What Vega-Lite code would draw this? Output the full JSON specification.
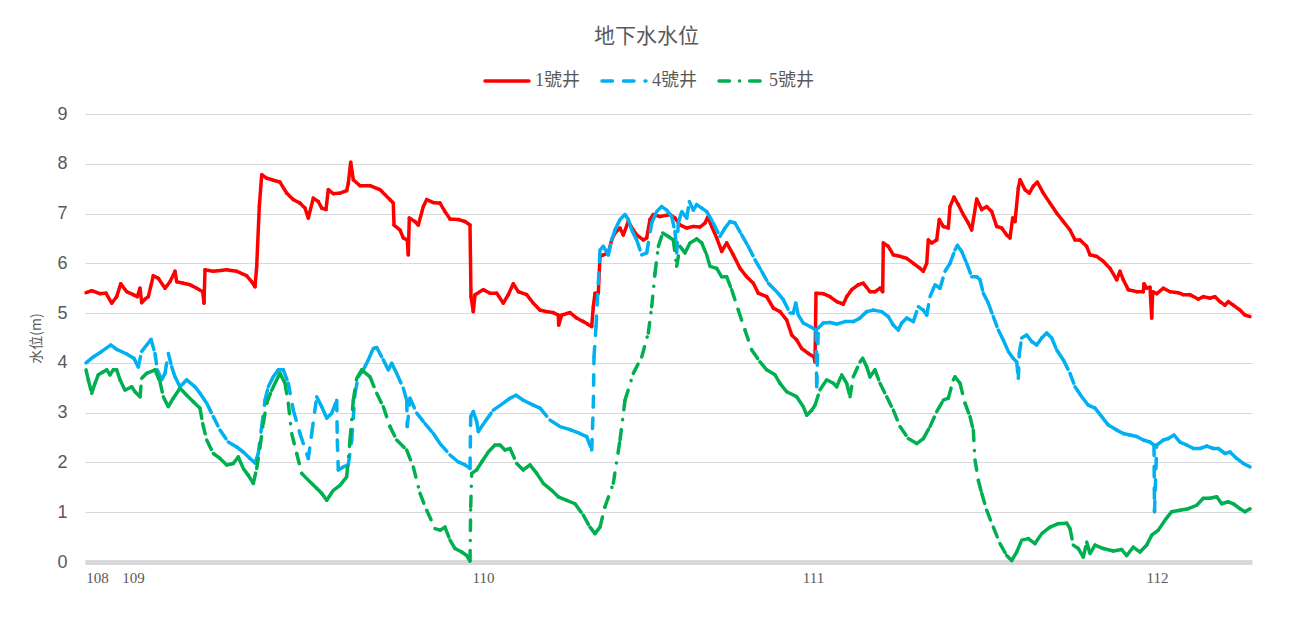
{
"$schema": "https://vega.github.io/schema/vega-lite/v6.json",
"width": 1167,
"height": 448,
"autosize": {"type": "none"},
"padding": {"left": 85, "top": 114, "right": 40, "bottom": 69},
"background": "white",
"title": {"text": "地下水水位", "anchor": "middle", "frame": "group", "dx": -22, "offset": 10, "fontSize": 21, "font": "Noto Sans CJK TC", "fontWeight": "normal", "color": "#595959"},
"data": {"values": [
{"s":"1號井","t":1,"v":5.41},{"s":"1號井","t":6.7,"v":5.45},{"s":"1號井","t":15,"v":5.39},{"s":"1號井","t":21,"v":5.40},{"s":"1號井","t":26.7,"v":5.20},{"s":"1號井","t":31.7,"v":5.33},{"s":"1號井","t":35.7,"v":5.59},{"s":"1號井","t":41.7,"v":5.43},{"s":"1號井","t":48.3,"v":5.37},{"s":"1號井","t":52.3,"v":5.33},{"s":"1號井","t":55,"v":5.50},{"s":"1號井","t":56.7,"v":5.21},{"s":"1號井","t":60,"v":5.28},{"s":"1號井","t":63.3,"v":5.33},{"s":"1號井","t":68.3,"v":5.75},{"s":"1號井","t":73.3,"v":5.70},{"s":"1號井","t":80,"v":5.50},{"s":"1號井","t":85,"v":5.63},{"s":"1號井","t":90,"v":5.84},{"s":"1號井","t":91.7,"v":5.63},{"s":"1號井","t":98.3,"v":5.60},{"s":"1號井","t":105,"v":5.57},{"s":"1號井","t":111.7,"v":5.50},{"s":"1號井","t":117.7,"v":5.43},{"s":"1號井","t":119,"v":5.20},{"s":"1號井","t":120,"v":5.87},{"s":"1號井","t":128.3,"v":5.84},{"s":"1號井","t":141.7,"v":5.87},{"s":"1號井","t":151.7,"v":5.84},{"s":"1號井","t":161.7,"v":5.75},{"s":"1號井","t":166.7,"v":5.63},{"s":"1號井","t":170,"v":5.53},{"s":"1號井","t":171.7,"v":5.94},{"s":"1號井","t":174.3,"v":7.14},{"s":"1號井","t":176.7,"v":7.78},{"s":"1號井","t":181.7,"v":7.71},{"s":"1號井","t":188.3,"v":7.67},{"s":"1號井","t":195,"v":7.63},{"s":"1號井","t":201.7,"v":7.41},{"s":"1號井","t":208.3,"v":7.28},{"s":"1號井","t":215,"v":7.21},{"s":"1號井","t":220,"v":7.11},{"s":"1號井","t":223.3,"v":6.91},{"s":"1號井","t":228.3,"v":7.31},{"s":"1號井","t":233.3,"v":7.24},{"s":"1號井","t":236.7,"v":7.11},{"s":"1號井","t":241,"v":7.08},{"s":"1號井","t":243.3,"v":7.48},{"s":"1號井","t":248.3,"v":7.40},{"s":"1號井","t":255,"v":7.41},{"s":"1號井","t":261.7,"v":7.46},{"s":"1號井","t":263.3,"v":7.61},{"s":"1號井","t":265.7,"v":8.03},{"s":"1號井","t":268.3,"v":7.68},{"s":"1號井","t":275,"v":7.56},{"s":"1號井","t":285,"v":7.56},{"s":"1號井","t":295,"v":7.48},{"s":"1號井","t":305,"v":7.28},{"s":"1號井","t":308.3,"v":7.21},{"s":"1號井","t":309,"v":6.77},{"s":"1號井","t":315,"v":6.67},{"s":"1號井","t":318.3,"v":6.51},{"s":"1號井","t":322.3,"v":6.47},{"s":"1號井","t":323.3,"v":6.17},{"s":"1號井","t":324.3,"v":6.91},{"s":"1號井","t":330,"v":6.84},{"s":"1號井","t":333.3,"v":6.77},{"s":"1號井","t":338.3,"v":7.14},{"s":"1號井","t":341.7,"v":7.28},{"s":"1號井","t":348.3,"v":7.22},{"s":"1號井","t":355,"v":7.21},{"s":"1號井","t":360,"v":7.04},{"s":"1號井","t":365,"v":6.89},{"s":"1號井","t":373.3,"v":6.88},{"s":"1號井","t":380,"v":6.84},{"s":"1號井","t":385,"v":6.77},{"s":"1號井","t":386,"v":5.33},{"s":"1號井","t":388.3,"v":5.03},{"s":"1號井","t":390,"v":5.37},{"s":"1號井","t":398.3,"v":5.47},{"s":"1號井","t":405,"v":5.40},{"s":"1號井","t":411.7,"v":5.40},{"s":"1號井","t":418.3,"v":5.20},{"s":"1號井","t":423.3,"v":5.37},{"s":"1號井","t":428.3,"v":5.59},{"s":"1號井","t":433.3,"v":5.43},{"s":"1號井","t":441.7,"v":5.37},{"s":"1號井","t":448.3,"v":5.20},{"s":"1號井","t":455,"v":5.06},{"s":"1號井","t":461.7,"v":5.03},{"s":"1號井","t":468.3,"v":5.01},{"s":"1號井","t":473.3,"v":4.96},{"s":"1號井","t":473.7,"v":4.76},{"s":"1號井","t":476.7,"v":4.96},{"s":"1號井","t":485,"v":5.01},{"s":"1號井","t":491.7,"v":4.90},{"s":"1號井","t":498.3,"v":4.83},{"s":"1號井","t":506.7,"v":4.73},{"s":"1號井","t":508.3,"v":5.13},{"s":"1號井","t":510,"v":5.40},{"s":"1號井","t":513.3,"v":5.40},{"s":"1號井","t":515,"v":6.14},{"s":"1號井","t":518.3,"v":6.17},{"s":"1號井","t":523.3,"v":6.21},{"s":"1號井","t":526.7,"v":6.47},{"s":"1號井","t":530,"v":6.61},{"s":"1號井","t":535,"v":6.71},{"s":"1號井","t":538.3,"v":6.57},{"s":"1號井","t":543.3,"v":6.84},{"s":"1號井","t":548.3,"v":6.67},{"s":"1號井","t":551.7,"v":6.57},{"s":"1號井","t":558.3,"v":6.47},{"s":"1號井","t":561.7,"v":6.51},{"s":"1號井","t":565,"v":6.88},{"s":"1號井","t":568.3,"v":6.98},{"s":"1號井","t":575,"v":6.94},{"s":"1號井","t":585,"v":6.98},{"s":"1號井","t":590,"v":6.91},{"s":"1號井","t":595,"v":6.77},{"s":"1號井","t":601.7,"v":6.71},{"s":"1號井","t":608.3,"v":6.74},{"s":"1號井","t":615,"v":6.73},{"s":"1號井","t":620,"v":6.81},{"s":"1號井","t":622.7,"v":6.93},{"s":"1號井","t":626.7,"v":6.74},{"s":"1號井","t":631.7,"v":6.51},{"s":"1號井","t":636.7,"v":6.24},{"s":"1號井","t":641.7,"v":6.41},{"s":"1號井","t":648.3,"v":6.17},{"s":"1號井","t":655,"v":5.90},{"s":"1號井","t":661.7,"v":5.73},{"s":"1號井","t":668.3,"v":5.60},{"s":"1號井","t":673.3,"v":5.40},{"s":"1號井","t":681.7,"v":5.33},{"s":"1號井","t":688.3,"v":5.10},{"s":"1號井","t":695,"v":5.03},{"s":"1號井","t":701.7,"v":4.86},{"s":"1號井","t":706.7,"v":4.56},{"s":"1號井","t":711.7,"v":4.46},{"s":"1號井","t":716.7,"v":4.29},{"s":"1號井","t":723.3,"v":4.19},{"s":"1號井","t":729,"v":4.12},{"s":"1號井","t":730,"v":4.02},{"s":"1號井","t":731,"v":5.40},{"s":"1號井","t":738.3,"v":5.39},{"s":"1號井","t":745,"v":5.33},{"s":"1號井","t":751.7,"v":5.23},{"s":"1號井","t":758.3,"v":5.18},{"s":"1號井","t":761.7,"v":5.33},{"s":"1號井","t":766.7,"v":5.47},{"s":"1號井","t":773.3,"v":5.57},{"s":"1號井","t":778.3,"v":5.60},{"s":"1號井","t":785,"v":5.43},{"s":"1號井","t":790,"v":5.43},{"s":"1號井","t":795,"v":5.50},{"s":"1號井","t":797.7,"v":5.43},{"s":"1號井","t":798.3,"v":6.41},{"s":"1號井","t":803.3,"v":6.34},{"s":"1號井","t":808.3,"v":6.17},{"s":"1號井","t":815,"v":6.14},{"s":"1號井","t":821.7,"v":6.10},{"s":"1號井","t":828.3,"v":6.00},{"s":"1號井","t":835,"v":5.90},{"s":"1號井","t":838.3,"v":5.84},{"s":"1號井","t":841.7,"v":6.00},{"s":"1號井","t":843.3,"v":6.47},{"s":"1號井","t":846.7,"v":6.41},{"s":"1號井","t":851.7,"v":6.47},{"s":"1號井","t":854.3,"v":6.88},{"s":"1號井","t":858.3,"v":6.74},{"s":"1號井","t":863.3,"v":6.71},{"s":"1號井","t":865,"v":7.14},{"s":"1號井","t":869,"v":7.33},{"s":"1號井","t":873.3,"v":7.18},{"s":"1號井","t":878.3,"v":6.98},{"s":"1號井","t":883.3,"v":6.81},{"s":"1號井","t":886.7,"v":6.67},{"s":"1號井","t":891.7,"v":7.29},{"s":"1號井","t":896.7,"v":7.08},{"s":"1號井","t":901.7,"v":7.14},{"s":"1號井","t":906.7,"v":7.04},{"s":"1號井","t":911.7,"v":6.74},{"s":"1號井","t":916.7,"v":6.71},{"s":"1號井","t":921.7,"v":6.57},{"s":"1號井","t":925,"v":6.51},{"s":"1號井","t":927.7,"v":6.91},{"s":"1號井","t":930,"v":6.84},{"s":"1號井","t":933.3,"v":7.51},{"s":"1號井","t":935,"v":7.68},{"s":"1號井","t":940,"v":7.48},{"s":"1號井","t":944.3,"v":7.41},{"s":"1號井","t":948.3,"v":7.55},{"s":"1號井","t":952.3,"v":7.63},{"s":"1號井","t":958.3,"v":7.41},{"s":"1號井","t":965,"v":7.21},{"s":"1號井","t":971.7,"v":7.01},{"s":"1號井","t":978.3,"v":6.84},{"s":"1號井","t":985,"v":6.67},{"s":"1號井","t":990,"v":6.47},{"s":"1號井","t":995,"v":6.47},{"s":"1號井","t":1001.7,"v":6.34},{"s":"1號井","t":1005,"v":6.17},{"s":"1號井","t":1011.7,"v":6.14},{"s":"1號井","t":1018.3,"v":6.04},{"s":"1號井","t":1025,"v":5.90},{"s":"1號井","t":1031.7,"v":5.67},{"s":"1號井","t":1035,"v":5.84},{"s":"1號井","t":1038.3,"v":5.67},{"s":"1號井","t":1043.3,"v":5.47},{"s":"1號井","t":1051.7,"v":5.43},{"s":"1號井","t":1058.3,"v":5.43},{"s":"1號井","t":1059,"v":5.59},{"s":"1號井","t":1061.7,"v":5.50},{"s":"1號井","t":1065,"v":5.52},{"s":"1號井","t":1066.7,"v":4.90},{"s":"1號井","t":1067.7,"v":5.43},{"s":"1號井","t":1071.7,"v":5.39},{"s":"1號井","t":1078.3,"v":5.50},{"s":"1號井","t":1085,"v":5.43},{"s":"1號井","t":1093.3,"v":5.41},{"s":"1號井","t":1098.3,"v":5.37},{"s":"1號井","t":1105,"v":5.37},{"s":"1號井","t":1113.3,"v":5.28},{"s":"1號井","t":1118.3,"v":5.33},{"s":"1號井","t":1125,"v":5.30},{"s":"1號井","t":1130,"v":5.33},{"s":"1號井","t":1135,"v":5.23},{"s":"1號井","t":1140,"v":5.16},{"s":"1號井","t":1143.3,"v":5.23},{"s":"1號井","t":1148.3,"v":5.16},{"s":"1號井","t":1155,"v":5.06},{"s":"1號井","t":1160,"v":4.96},{"s":"1號井","t":1165,"v":4.93},
{"s":"4號井","t":1,"v":4.00},{"s":"4號井","t":8.3,"v":4.12},{"s":"4號井","t":16.7,"v":4.23},{"s":"4號井","t":25.7,"v":4.36},{"s":"4號井","t":31.7,"v":4.27},{"s":"4號井","t":41.7,"v":4.18},{"s":"4號井","t":49,"v":4.09},{"s":"4號井","t":53.3,"v":3.92},{"s":"4號井","t":56.7,"v":4.23},{"s":"4號井","t":61.7,"v":4.36},{"s":"4號井","t":66,"v":4.47},{"s":"4號井","t":70,"v":4.19},{"s":"4號井","t":72.3,"v":3.86},{"s":"4號井","t":76.7,"v":3.66},{"s":"4號井","t":80,"v":3.79},{"s":"4號井","t":83.3,"v":4.19},{"s":"4號井","t":86.7,"v":3.92},{"s":"4號井","t":90,"v":3.72},{"s":"4號井","t":95,"v":3.52},{"s":"4號井","t":101.7,"v":3.66},{"s":"4號井","t":110,"v":3.52},{"s":"4號井","t":115,"v":3.39},{"s":"4號井","t":121.7,"v":3.19},{"s":"4號井","t":128.3,"v":2.92},{"s":"4號井","t":135,"v":2.65},{"s":"4號井","t":143.3,"v":2.41},{"s":"4號井","t":151.7,"v":2.31},{"s":"4號井","t":158.3,"v":2.21},{"s":"4號井","t":165,"v":2.08},{"s":"4號井","t":170,"v":1.99},{"s":"4號井","t":173.3,"v":2.18},{"s":"4號井","t":176.7,"v":2.72},{"s":"4號井","t":180,"v":3.25},{"s":"4號井","t":183.3,"v":3.52},{"s":"4號井","t":188.3,"v":3.72},{"s":"4號井","t":193.3,"v":3.86},{"s":"4號井","t":198.3,"v":3.86},{"s":"4號井","t":203.3,"v":3.59},{"s":"4號井","t":208.3,"v":3.05},{"s":"4號井","t":215,"v":2.58},{"s":"4號井","t":223.3,"v":2.08},{"s":"4號井","t":226.7,"v":2.58},{"s":"4號井","t":231.7,"v":3.32},{"s":"4號井","t":236.7,"v":3.12},{"s":"4號井","t":241.7,"v":2.89},{"s":"4號井","t":246.7,"v":2.99},{"s":"4號井","t":251.7,"v":3.25},{"s":"4號井","t":252.3,"v":2.45},{"s":"4號井","t":253.3,"v":1.85},{"s":"4號井","t":258.3,"v":1.91},{"s":"4號井","t":263.3,"v":1.95},{"s":"4號井","t":266.7,"v":2.45},{"s":"4號井","t":270,"v":3.39},{"s":"4號井","t":273.3,"v":3.72},{"s":"4號井","t":278.3,"v":3.86},{"s":"4號井","t":283.3,"v":4.06},{"s":"4號井","t":288.3,"v":4.29},{"s":"4號井","t":291.7,"v":4.31},{"s":"4號井","t":298.3,"v":4.06},{"s":"4號井","t":303.3,"v":3.86},{"s":"4號井","t":306.7,"v":3.99},{"s":"4號井","t":311.7,"v":3.79},{"s":"4號井","t":318.3,"v":3.49},{"s":"4號井","t":321.7,"v":3.25},{"s":"4號井","t":322.3,"v":2.72},{"s":"4號井","t":325,"v":3.29},{"s":"4號井","t":331.7,"v":2.99},{"s":"4號井","t":340,"v":2.78},{"s":"4號井","t":348.3,"v":2.58},{"s":"4號井","t":355,"v":2.38},{"s":"4號井","t":365,"v":2.15},{"s":"4號井","t":373.3,"v":2.01},{"s":"4號井","t":380,"v":1.95},{"s":"4號井","t":385,"v":1.88},{"s":"4號井","t":385.7,"v":2.92},{"s":"4號井","t":388.3,"v":3.02},{"s":"4號井","t":391.7,"v":2.82},{"s":"4號井","t":393.3,"v":2.62},{"s":"4號井","t":400,"v":2.82},{"s":"4號井","t":408.3,"v":3.05},{"s":"4號井","t":418.3,"v":3.19},{"s":"4號井","t":425,"v":3.29},{"s":"4號井","t":431,"v":3.35},{"s":"4號井","t":438.3,"v":3.25},{"s":"4號井","t":448.3,"v":3.15},{"s":"4號井","t":455,"v":3.09},{"s":"4號井","t":465,"v":2.85},{"s":"4號井","t":475,"v":2.72},{"s":"4號井","t":485,"v":2.66},{"s":"4號井","t":495,"v":2.58},{"s":"4號井","t":501.7,"v":2.52},{"s":"4號井","t":506.7,"v":2.25},{"s":"4號井","t":508.3,"v":3.12},{"s":"4號井","t":509,"v":4.12},{"s":"4號井","t":511,"v":4.73},{"s":"4號井","t":513.3,"v":5.60},{"s":"4號井","t":515,"v":6.27},{"s":"4號井","t":518.3,"v":6.34},{"s":"4號井","t":523.3,"v":6.17},{"s":"4號井","t":526.7,"v":6.47},{"s":"4號井","t":530,"v":6.67},{"s":"4號井","t":535,"v":6.88},{"s":"4號井","t":540,"v":6.98},{"s":"4號井","t":543.3,"v":6.88},{"s":"4號井","t":546.7,"v":6.67},{"s":"4號井","t":551.7,"v":6.47},{"s":"4號井","t":556.7,"v":6.17},{"s":"4號井","t":561.7,"v":6.21},{"s":"4號井","t":566.7,"v":6.81},{"s":"4號井","t":571.7,"v":7.04},{"s":"4號井","t":576.7,"v":7.14},{"s":"4號井","t":581.7,"v":7.07},{"s":"4號井","t":586.7,"v":6.94},{"s":"4號井","t":590,"v":6.64},{"s":"4號井","t":591.7,"v":6.21},{"s":"4號井","t":593.3,"v":6.81},{"s":"4號井","t":596.7,"v":7.04},{"s":"4號井","t":601.7,"v":6.91},{"s":"4號井","t":604.3,"v":7.24},{"s":"4號井","t":608.3,"v":7.07},{"s":"4號井","t":611.7,"v":7.18},{"s":"4號井","t":616.7,"v":7.11},{"s":"4號井","t":621.7,"v":7.04},{"s":"4號井","t":628.3,"v":6.81},{"s":"4號井","t":635,"v":6.54},{"s":"4號井","t":640,"v":6.71},{"s":"4號井","t":645,"v":6.84},{"s":"4號井","t":650,"v":6.81},{"s":"4號井","t":656.7,"v":6.57},{"s":"4號井","t":663.3,"v":6.34},{"s":"4號井","t":670,"v":6.07},{"s":"4號井","t":676.7,"v":5.84},{"s":"4號井","t":683.3,"v":5.60},{"s":"4號井","t":691.7,"v":5.43},{"s":"4號井","t":698.3,"v":5.27},{"s":"4號井","t":705,"v":5.00},{"s":"4號井","t":708.3,"v":5.00},{"s":"4號井","t":710.7,"v":5.20},{"s":"4號井","t":713.3,"v":4.96},{"s":"4號井","t":718.3,"v":4.80},{"s":"4號井","t":725,"v":4.73},{"s":"4號井","t":731,"v":4.66},{"s":"4號井","t":731.7,"v":3.52},{"s":"4號井","t":733.3,"v":4.70},{"s":"4號井","t":738.3,"v":4.80},{"s":"4號井","t":745,"v":4.81},{"s":"4號井","t":751.7,"v":4.78},{"s":"4號井","t":760,"v":4.83},{"s":"4號井","t":768.3,"v":4.83},{"s":"4號井","t":775,"v":4.90},{"s":"4號井","t":781.7,"v":5.03},{"s":"4號井","t":788.3,"v":5.06},{"s":"4號井","t":796.7,"v":5.03},{"s":"4號井","t":803.3,"v":4.93},{"s":"4號井","t":808.3,"v":4.76},{"s":"4號井","t":813.3,"v":4.66},{"s":"4號井","t":816.7,"v":4.80},{"s":"4號井","t":821.7,"v":4.90},{"s":"4號井","t":828.3,"v":4.83},{"s":"4號井","t":833.3,"v":5.13},{"s":"4號井","t":838.3,"v":5.06},{"s":"4號井","t":841.7,"v":4.96},{"s":"4號井","t":845,"v":5.33},{"s":"4號井","t":850,"v":5.57},{"s":"4號井","t":855,"v":5.50},{"s":"4號井","t":860,"v":5.84},{"s":"4號井","t":865,"v":6.00},{"s":"4號井","t":870,"v":6.27},{"s":"4號井","t":872.5,"v":6.36},{"s":"4號井","t":876.7,"v":6.24},{"s":"4號井","t":881.7,"v":6.00},{"s":"4號井","t":886.7,"v":5.73},{"s":"4號井","t":891.7,"v":5.73},{"s":"4號井","t":895,"v":5.67},{"s":"4號井","t":898.3,"v":5.40},{"s":"4號井","t":903.3,"v":5.20},{"s":"4號井","t":908.3,"v":4.93},{"s":"4號井","t":913.3,"v":4.66},{"s":"4號井","t":918.3,"v":4.46},{"s":"4號井","t":923.3,"v":4.23},{"s":"4號井","t":928.3,"v":4.09},{"s":"4號井","t":931.7,"v":4.02},{"s":"4號井","t":933.3,"v":3.69},{"s":"4號井","t":934.3,"v":4.19},{"s":"4號井","t":936.7,"v":4.50},{"s":"4號井","t":941.7,"v":4.56},{"s":"4號井","t":946.7,"v":4.43},{"s":"4號井","t":951.7,"v":4.36},{"s":"4號井","t":956.7,"v":4.50},{"s":"4號井","t":961.7,"v":4.60},{"s":"4號井","t":966.7,"v":4.50},{"s":"4號井","t":971.7,"v":4.26},{"s":"4號井","t":978.3,"v":4.06},{"s":"4號井","t":985,"v":3.79},{"s":"4號井","t":990,"v":3.52},{"s":"4號井","t":996.7,"v":3.32},{"s":"4號井","t":1003.3,"v":3.15},{"s":"4號井","t":1010,"v":3.09},{"s":"4號井","t":1016.7,"v":2.92},{"s":"4號井","t":1023.3,"v":2.75},{"s":"4號井","t":1031.7,"v":2.65},{"s":"4號井","t":1038.3,"v":2.58},{"s":"4號井","t":1045,"v":2.55},{"s":"4號井","t":1051.7,"v":2.52},{"s":"4號井","t":1058.3,"v":2.45},{"s":"4號井","t":1065,"v":2.41},{"s":"4號井","t":1069,"v":2.35},{"s":"4號井","t":1069.5,"v":1.01},{"s":"4號井","t":1071.7,"v":2.35},{"s":"4號井","t":1078.3,"v":2.45},{"s":"4號井","t":1083.3,"v":2.48},{"s":"4號井","t":1089,"v":2.55},{"s":"4號井","t":1095,"v":2.41},{"s":"4號井","t":1101.7,"v":2.35},{"s":"4號井","t":1108.3,"v":2.28},{"s":"4號井","t":1115,"v":2.28},{"s":"4號井","t":1121.7,"v":2.33},{"s":"4號井","t":1128.3,"v":2.28},{"s":"4號井","t":1133.3,"v":2.28},{"s":"4號井","t":1140,"v":2.18},{"s":"4號井","t":1145,"v":2.21},{"s":"4號井","t":1151.7,"v":2.08},{"s":"4號井","t":1158.3,"v":1.98},{"s":"4號井","t":1165,"v":1.91},
{"s":"5號井","t":1,"v":3.86},{"s":"5號井","t":3.3,"v":3.66},{"s":"5號井","t":6.7,"v":3.39},{"s":"5號井","t":10,"v":3.59},{"s":"5號井","t":13.3,"v":3.76},{"s":"5號井","t":18.3,"v":3.82},{"s":"5號井","t":21.7,"v":3.86},{"s":"5號井","t":25,"v":3.76},{"s":"5號井","t":28.3,"v":3.86},{"s":"5號井","t":31.7,"v":3.86},{"s":"5號井","t":35,"v":3.66},{"s":"5號井","t":40,"v":3.45},{"s":"5號井","t":46.7,"v":3.52},{"s":"5號井","t":50,"v":3.42},{"s":"5號井","t":55,"v":3.32},{"s":"5號井","t":56.7,"v":3.69},{"s":"5號井","t":61.7,"v":3.79},{"s":"5號井","t":70,"v":3.86},{"s":"5號井","t":75,"v":3.62},{"s":"5號井","t":78.3,"v":3.32},{"s":"5號井","t":83.3,"v":3.12},{"s":"5號井","t":88.3,"v":3.29},{"s":"5號井","t":95,"v":3.49},{"s":"5號井","t":101.7,"v":3.35},{"s":"5號井","t":108.3,"v":3.22},{"s":"5號井","t":115,"v":3.09},{"s":"5號井","t":117.7,"v":2.78},{"s":"5號井","t":121.7,"v":2.45},{"s":"5號井","t":128.3,"v":2.18},{"s":"5號井","t":135,"v":2.08},{"s":"5號井","t":141.7,"v":1.95},{"s":"5號井","t":148.3,"v":1.98},{"s":"5號井","t":153.3,"v":2.11},{"s":"5號井","t":158.3,"v":1.88},{"s":"5號井","t":163.3,"v":1.74},{"s":"5號井","t":168.3,"v":1.58},{"s":"5號井","t":171.7,"v":1.88},{"s":"5號井","t":175,"v":2.31},{"s":"5號井","t":178.3,"v":2.78},{"s":"5號井","t":181.7,"v":3.19},{"s":"5號井","t":186.7,"v":3.45},{"s":"5號井","t":191.7,"v":3.66},{"s":"5號井","t":195,"v":3.79},{"s":"5號井","t":200,"v":3.59},{"s":"5號井","t":203.3,"v":3.19},{"s":"5號井","t":206.7,"v":2.58},{"s":"5號井","t":211.7,"v":2.18},{"s":"5號井","t":216.7,"v":1.78},{"s":"5號井","t":225,"v":1.61},{"s":"5號井","t":231.7,"v":1.48},{"s":"5號井","t":236.7,"v":1.38},{"s":"5號井","t":241.7,"v":1.24},{"s":"5號井","t":248.3,"v":1.44},{"s":"5號井","t":255,"v":1.54},{"s":"5號井","t":261.7,"v":1.71},{"s":"5號井","t":265,"v":2.45},{"s":"5號井","t":268.3,"v":3.25},{"s":"5號井","t":271.7,"v":3.69},{"s":"5號井","t":276.7,"v":3.86},{"s":"5號井","t":285,"v":3.72},{"s":"5號井","t":291.7,"v":3.39},{"s":"5號井","t":298.3,"v":3.12},{"s":"5號井","t":305,"v":2.72},{"s":"5號井","t":311.7,"v":2.45},{"s":"5號井","t":321.7,"v":2.25},{"s":"5號井","t":328.3,"v":1.91},{"s":"5號井","t":335,"v":1.38},{"s":"5號井","t":341.7,"v":1.04},{"s":"5號井","t":350,"v":0.67},{"s":"5號井","t":355,"v":0.64},{"s":"5號井","t":360,"v":0.70},{"s":"5號井","t":365,"v":0.44},{"s":"5號井","t":370,"v":0.27},{"s":"5號井","t":376.7,"v":0.20},{"s":"5號井","t":381.7,"v":0.13},{"s":"5號井","t":385,"v":0.02},{"s":"5號井","t":385.7,"v":1.11},{"s":"5號井","t":386.7,"v":1.78},{"s":"5號井","t":391.7,"v":1.85},{"s":"5號井","t":396.7,"v":2.01},{"s":"5號井","t":403.3,"v":2.21},{"s":"5號井","t":410,"v":2.35},{"s":"5號井","t":415,"v":2.35},{"s":"5號井","t":420,"v":2.25},{"s":"5號井","t":425,"v":2.28},{"s":"5號井","t":431.7,"v":1.98},{"s":"5號井","t":438.3,"v":1.85},{"s":"5號井","t":445,"v":1.95},{"s":"5號井","t":451.7,"v":1.78},{"s":"5號井","t":458.3,"v":1.58},{"s":"5號井","t":466.7,"v":1.44},{"s":"5號井","t":473.3,"v":1.31},{"s":"5號井","t":481.7,"v":1.24},{"s":"5號井","t":490,"v":1.17},{"s":"5號井","t":498.3,"v":0.94},{"s":"5號井","t":505,"v":0.70},{"s":"5號井","t":510,"v":0.57},{"s":"5號井","t":515,"v":0.70},{"s":"5號井","t":520,"v":1.11},{"s":"5號井","t":528.3,"v":1.58},{"s":"5號井","t":535,"v":2.45},{"s":"5號井","t":540,"v":3.25},{"s":"5號井","t":548.3,"v":3.79},{"s":"5號井","t":556.7,"v":4.12},{"s":"5號井","t":563.3,"v":4.60},{"s":"5號井","t":566.7,"v":5.13},{"s":"5號井","t":570,"v":5.80},{"s":"5號井","t":573.3,"v":6.34},{"s":"5號井","t":577.7,"v":6.61},{"s":"5號井","t":583.3,"v":6.54},{"s":"5號井","t":588.3,"v":6.47},{"s":"5號井","t":591.7,"v":5.94},{"s":"5號井","t":595,"v":6.34},{"s":"5號井","t":600,"v":6.21},{"s":"5號井","t":605,"v":6.41},{"s":"5號井","t":611.7,"v":6.49},{"s":"5號井","t":616.7,"v":6.41},{"s":"5號井","t":621.7,"v":6.17},{"s":"5號井","t":625,"v":5.94},{"s":"5號井","t":631.7,"v":5.90},{"s":"5號井","t":636.7,"v":5.73},{"s":"5號井","t":641.7,"v":5.73},{"s":"5號井","t":646.7,"v":5.47},{"s":"5號井","t":653.3,"v":5.06},{"s":"5號井","t":660,"v":4.66},{"s":"5號井","t":666.7,"v":4.26},{"s":"5號井","t":675,"v":4.02},{"s":"5號井","t":681.7,"v":3.86},{"s":"5號井","t":690,"v":3.76},{"s":"5號井","t":695,"v":3.59},{"s":"5號井","t":701.7,"v":3.42},{"s":"5號井","t":711.7,"v":3.32},{"s":"5號井","t":718.3,"v":3.12},{"s":"5號井","t":721.7,"v":2.95},{"s":"5號井","t":726.7,"v":3.05},{"s":"5號井","t":730,"v":3.15},{"s":"5號井","t":735,"v":3.46},{"s":"5號井","t":741.7,"v":3.66},{"s":"5號井","t":748.3,"v":3.59},{"s":"5號井","t":751.7,"v":3.52},{"s":"5號井","t":756.7,"v":3.76},{"s":"5號井","t":761.7,"v":3.59},{"s":"5號井","t":765,"v":3.32},{"s":"5號井","t":768.3,"v":3.72},{"s":"5號井","t":775,"v":4.02},{"s":"5號井","t":777.7,"v":4.09},{"s":"5號井","t":781.7,"v":3.92},{"s":"5號井","t":785,"v":3.72},{"s":"5號井","t":790,"v":3.86},{"s":"5號井","t":795,"v":3.59},{"s":"5號井","t":801.7,"v":3.32},{"s":"5號井","t":808.3,"v":3.05},{"s":"5號井","t":815,"v":2.72},{"s":"5號井","t":823.3,"v":2.48},{"s":"5號井","t":831.7,"v":2.38},{"s":"5號井","t":838.3,"v":2.48},{"s":"5號井","t":845,"v":2.72},{"s":"5號井","t":851.7,"v":3.02},{"s":"5號井","t":858.3,"v":3.25},{"s":"5號井","t":863.3,"v":3.29},{"s":"5號井","t":868.3,"v":3.66},{"s":"5號井","t":870,"v":3.72},{"s":"5號井","t":875,"v":3.59},{"s":"5號井","t":880,"v":3.19},{"s":"5號井","t":885,"v":2.92},{"s":"5號井","t":888.3,"v":2.65},{"s":"5號井","t":890,"v":2.05},{"s":"5號井","t":893.3,"v":1.64},{"s":"5號井","t":896.7,"v":1.38},{"s":"5號井","t":901.7,"v":1.04},{"s":"5號井","t":908.3,"v":0.70},{"s":"5號井","t":915,"v":0.37},{"s":"5號井","t":921.7,"v":0.13},{"s":"5號井","t":926.7,"v":0.03},{"s":"5號井","t":931.7,"v":0.20},{"s":"5號井","t":936.7,"v":0.44},{"s":"5號井","t":943.3,"v":0.47},{"s":"5號井","t":950,"v":0.37},{"s":"5號井","t":956.7,"v":0.57},{"s":"5號井","t":965,"v":0.70},{"s":"5號井","t":973.3,"v":0.77},{"s":"5號井","t":981.7,"v":0.78},{"s":"5號井","t":985,"v":0.67},{"s":"5號井","t":988.3,"v":0.34},{"s":"5號井","t":993.3,"v":0.27},{"s":"5號井","t":998.3,"v":0.10},{"s":"5號井","t":1001.7,"v":0.40},{"s":"5號井","t":1005,"v":0.17},{"s":"5號井","t":1010,"v":0.34},{"s":"5號井","t":1018.3,"v":0.27},{"s":"5號井","t":1028.3,"v":0.22},{"s":"5號井","t":1036.7,"v":0.25},{"s":"5號井","t":1041.7,"v":0.13},{"s":"5號井","t":1048.3,"v":0.30},{"s":"5號井","t":1055,"v":0.20},{"s":"5號井","t":1061.7,"v":0.34},{"s":"5號井","t":1066.7,"v":0.54},{"s":"5號井","t":1073.3,"v":0.64},{"s":"5號井","t":1080,"v":0.84},{"s":"5號井","t":1086.7,"v":1.01},{"s":"5號井","t":1095,"v":1.04},{"s":"5號井","t":1103.3,"v":1.07},{"s":"5號井","t":1111.7,"v":1.14},{"s":"5號井","t":1118.3,"v":1.28},{"s":"5號井","t":1125,"v":1.28},{"s":"5號井","t":1131.7,"v":1.31},{"s":"5號井","t":1136.7,"v":1.17},{"s":"5號井","t":1143.3,"v":1.21},{"s":"5號井","t":1148.3,"v":1.17},{"s":"5號井","t":1155,"v":1.07},{"s":"5號井","t":1160,"v":1.01},{"s":"5號井","t":1165,"v":1.07}
]},
"transform": [
  {"window": [{"op": "lead", "field": "t", "as": "t2"}, {"op": "lead", "field": "v", "as": "v2"}], "groupby": ["s"], "sort": [{"field": "t", "order": "ascending"}]},
  {"filter": "isValid(datum.t2)"}
],
"mark": {"type": "rule", "strokeWidth": 3.5, "strokeCap": "round"},
"encoding": {
  "x": {"field": "t", "type": "quantitative", "scale": {"domain": [0, 1167], "nice": false, "zero": false},
        "axis": {"title": null, "values": [12, 48, 398, 728, 1072],
                 "labelExpr": "datum.value == 12 ? '108' : datum.value == 48 ? '109' : datum.value == 398 ? '110' : datum.value == 728 ? '111' : '112'",
                 "grid": false, "ticks": false, "domain": true, "domainColor": "#D9D9D9", "domainWidth": 5,
                 "labelFont": "Liberation Serif", "labelFontSize": 15, "labelColor": "#595959", "labelPadding": 8, "labelFlush": false, "labelOverlap": false}},
  "x2": {"field": "t2"},
  "y": {"field": "v", "type": "quantitative", "scale": {"domain": [0, 9], "nice": false},
        "axis": {"title": "水位(m)", "values": [0,1,2,3,4,5,6,7,8,9], "grid": true, "gridColor": "#D9D9D9", "gridWidth": 1,
                 "domain": false, "ticks": false, "labelFont": "Liberation Sans", "labelFontSize": 18, "labelColor": "#595959", "labelPadding": 18,
                 "titleFont": "Noto Sans CJK TC", "titleFontSize": 14, "titleFontWeight": "normal", "titleColor": "#595959", "titlePadding": 13}},
  "y2": {"field": "v2"},
  "color": {"field": "s", "type": "nominal", "title": null,
            "scale": {"domain": ["1號井", "4號井", "5號井"], "range": ["#FF0000", "#00B0F0", "#00B050"]},
            "legend": {"orient": "none", "legendX": 398, "legendY": -57, "direction": "horizontal", "symbolType": "stroke", "symbolSize": 1936, "symbolStrokeWidth": 3.5, "columnPadding": 15, "labelOffset": 4, "labelFont": "'Liberation Serif', 'Noto Sans CJK TC'", "labelFontSize": 18, "labelColor": "#595959",
                       "encoding": {"symbols": {"strokeCap": {"value": "round"}}}}},
  "strokeDash": {"field": "s", "type": "nominal", "title": null,
            "scale": {"domain": ["1號井", "4號井", "5號井"], "range": [[1, 0], [10.5, 11], [10.5, 10, 0.1, 10]]},
            "legend": {"orient": "none", "legendX": 398, "legendY": -57, "direction": "horizontal", "symbolType": "stroke", "symbolSize": 1936, "symbolStrokeWidth": 3.5, "columnPadding": 15, "labelOffset": 4, "labelFont": "'Liberation Serif', 'Noto Sans CJK TC'", "labelFontSize": 18, "labelColor": "#595959",
                       "encoding": {"symbols": {"strokeCap": {"value": "round"}}}}}
},
"config": {"view": {"stroke": null}}
}
